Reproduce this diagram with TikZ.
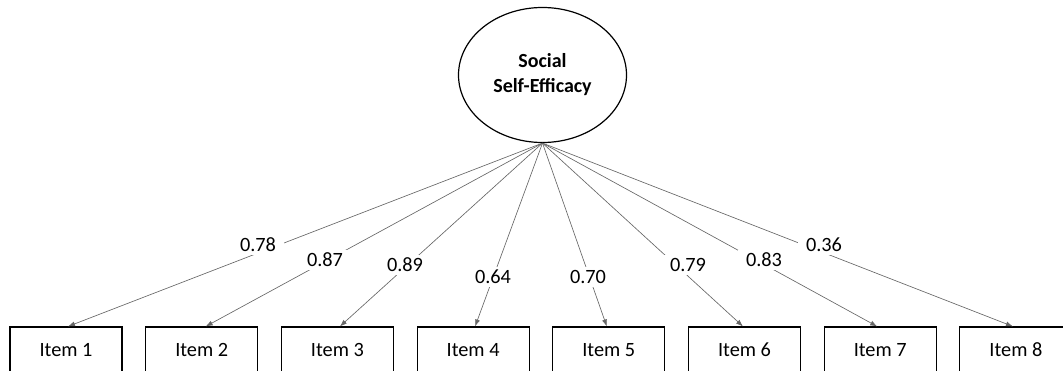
\documentclass[tikz,border=0pt]{standalone}
\usepackage{fontspec}
\setmainfont{Carlito}
\usetikzlibrary{shapes.geometric,arrows.meta,calc}
\begin{document}
\begin{tikzpicture}[x=1pt,y=-1pt,
  latent/.style={draw=black,line width=1.2pt,ellipse,minimum width=168pt,minimum height=135pt,inner sep=0pt,
    font=\fontsize{20}{25}\selectfont\bfseries,align=center},
  itembox/.style={draw=black,line width=1.1pt,rectangle,minimum width=112pt,minimum height=46pt,inner sep=0pt,
    font=\fontsize{20.3}{23}\selectfont},
  loading/.style={draw=black!60,line width=0.65pt,-{Latex[length=7pt,width=5pt]}},
  coef/.style={fill=white,inner xsep=8pt,inner ysep=3pt,font=\fontsize{20.3}{23}\selectfont}]
\useasboundingbox (0,0) rectangle (1063,371);
\clip (0,0) rectangle (1063,371);
\node[latent] (sse) at (542.5,75) {Social\\Self-Efficacy};
\node[itembox] (i1) at (66,350) {Item 1};
\node[itembox] (i2) at (201.7,350) {Item 2};
\node[itembox] (i3) at (337.4,350) {Item 3};
\node[itembox] (i4) at (473.1,350) {Item 4};
\node[itembox] (i5) at (608.8,350) {Item 5};
\node[itembox] (i6) at (744.5,350) {Item 6};
\node[itembox] (i7) at (880.2,350) {Item 7};
\node[itembox] (i8) at (1015.9,350) {Item 8};
\draw[loading] (sse.south) -- ($(i1.north)+(2,0)$);
\draw[loading] (sse.south) -- ($(i2.north)+(4,0)$);
\draw[loading] (sse.south) -- ($(i3.north)+(2.5,0)$);
\draw[loading] (sse.south) -- ($(i4.north)+(2,0)$);
\draw[loading] (sse.south) -- ($(i5.north)+(-2,0)$);
\draw[loading] (sse.south) -- ($(i6.north)+(-1.5,0)$);
\draw[loading] (sse.south) -- ($(i7.north)+(-3,0)$);
\draw[loading] (sse.south) -- ($(i8.north)+(-3,0)$);
\node[coef] (c1) at (258,245) {0.78};
\node[coef] (c2) at (325,260) {0.87};
\node[coef] (c3) at (405,265) {0.89};
\node[coef] (c4) at (493,277) {0.64};
\node[coef] (c5) at (588,277) {0.70};
\node[coef] (c6) at (688,265) {0.79};
\node[coef] (c7) at (764,260) {0.83};
\node[coef] (c8) at (824,245) {0.36};
\end{tikzpicture}
\end{document}
